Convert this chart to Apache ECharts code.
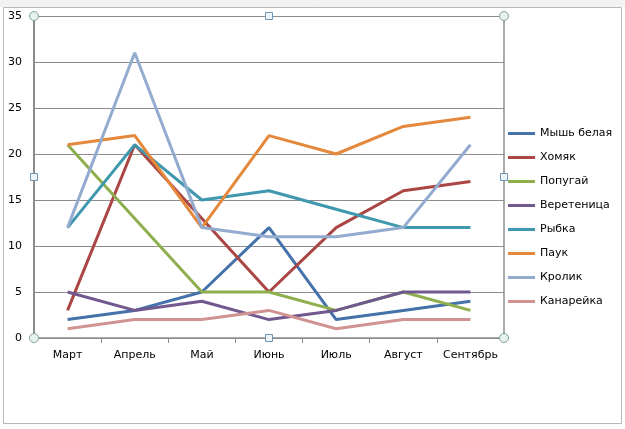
<!DOCTYPE html>
<html><head><meta charset="utf-8">
<script src="https://cdn.jsdelivr.net/npm/echarts@6/dist/echarts.min.js"></script>
<style>html,body{margin:0;padding:0;background:#fff}#c{width:625px;height:429px}</style>
</head><body><div id="c"></div>
<script>
const categories = ["Март","Апрель","Май","Июнь","Июль","Август","Сентябрь"];
const mouse = [2,3,5,12,2,3,4];
const hamster = [3,21,13,5,12,16,17];
const parrot = [21,13,5,5,3,5,3];
const slowworm = [5,3,4,2,3,5,5];
const fish = [12,21,15,16,14,12,12];
const spider = [21,22,12,22,20,23,24];
const rabbit = [12,31,12,11,11,12,21];
const canary = [1,2,2,3,1,2,2];
const yTicks = [0,5,10,15,20,25,30,35];

const seriesDefs = [
  ["Мышь белая", mouse, "#4572AA"],
  ["Хомяк", hamster, "#AA4643"],
  ["Попугай", parrot, "#8FAE4E"],
  ["Веретеница", slowworm, "#71588F"],
  ["Рыбка", fish, "#3F98AE"],
  ["Паук", spider, "#E4883B"],
  ["Кролик", rabbit, "#93ABCF"],
  ["Канарейка", canary, "#D19392"]
];
const font = "'DejaVu Sans', sans-serif";
const chart = echarts.init(document.getElementById('c'), null, {renderer:'canvas'});
const handle = (x,y,round)=> round
  ? {type:'circle', shape:{cx:x, cy:y, r:4.5}, style:{fill:'#E6F2F0', stroke:'#7FA39B', lineWidth:1}, z:100}
  : {type:'rect', shape:{x:x-3.5, y:y-3.5, width:7, height:7}, style:{fill:'#EEF5FA', stroke:'#6F95B5', lineWidth:1}, z:100};
chart.setOption({
  animation:false,
  backgroundColor:'#fff',
  textStyle:{fontFamily:font},
  graphic:[
    {type:'rect', shape:{x:0,y:0,width:625,height:7}, style:{fill:'#F2F2F2'}, z:-1},
    {type:'rect', shape:{x:3.5,y:7.5,width:618,height:416}, style:{fill:'none', stroke:'#B8B8B8', lineWidth:1}, z:-1},
    {type:'line', shape:{x1:504,y1:16,x2:504,y2:338}, style:{stroke:'#8C8C8C', lineWidth:1.5}, z:50},
    handle(34,16,true), handle(504,16,true), handle(34,338,true), handle(504,338,true),
    handle(269,16,false), handle(269,338,false), handle(34,177,false), handle(504,177,false)
  ],
  grid:{left:34, right:121, top:16, bottom:91},
  legend:{
    orient:'vertical', left:508, top:128, padding:0, itemWidth:27, itemHeight:14, itemGap:13,
    data: seriesDefs.map(d=>({name:d[0], icon:'path://M0,6 L27,6 L27,9 L0,9 Z'})),
    textStyle:{fontFamily:font, fontSize:11, color:'#000'}
  },
  xAxis:{
    type:'category', data:categories, boundaryGap:true,
    axisLine:{lineStyle:{color:'#8C8C8C', width:1.5}},
    axisTick:{show:true, length:5, lineStyle:{color:'#8C8C8C'}},
    axisLabel:{fontFamily:font, fontSize:11, color:'#000', margin:12, interval:0}
  },
  yAxis:{
    type:'value', min:yTicks[0], max:yTicks[yTicks.length-1], interval:5,
    axisLine:{show:true, lineStyle:{color:'#8C8C8C', width:2}},
    axisTick:{show:false},
    axisLabel:{fontFamily:font, fontSize:11, color:'#000', margin:12},
    splitLine:{lineStyle:{color:'#8C8C8C', width:1}}
  },
  series: seriesDefs.map(d=>({
    name:d[0], type:'line', data:d[1], symbol:'none',
    lineStyle:{color:d[2], width:3}, itemStyle:{color:d[2]}
  }))
});
</script></body></html>
